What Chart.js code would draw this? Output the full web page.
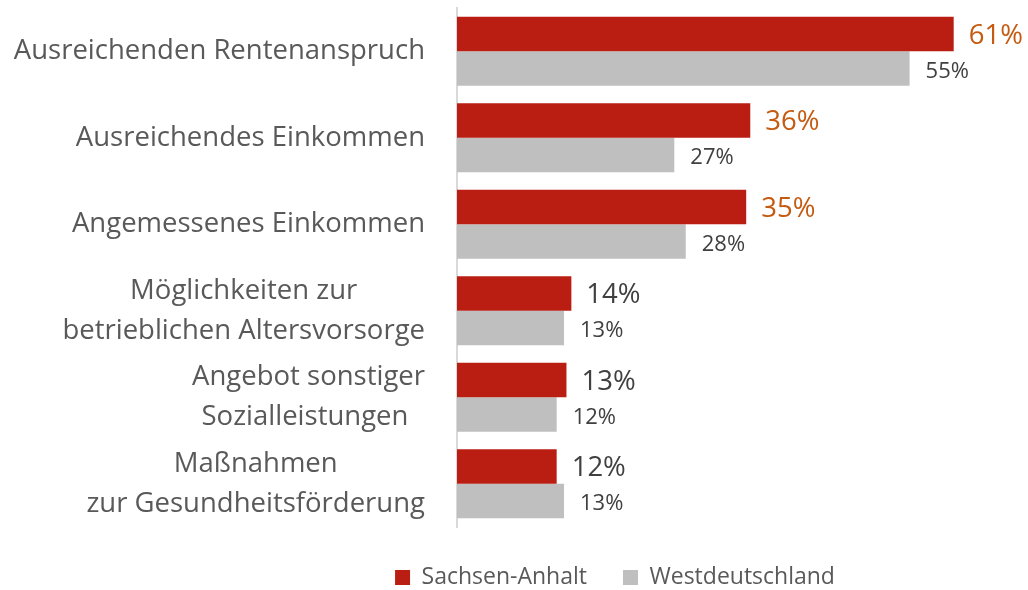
<!DOCTYPE html>
<html>
<head>
<meta charset="utf-8">
<script src="https://cdn.jsdelivr.net/npm/chart.js@4/dist/chart.umd.min.js"></script>
<style>
  html, body { margin: 0; padding: 0; background: #fff; }
  #wrap { width: 1028px; height: 590px; position: relative; }
</style>
</head>
<body>
<div id="wrap"><canvas id="chart"></canvas></div>
<script>
// categories, one array of lines per label
const categories = [
    ['Ausreichenden Rentenanspruch'],
    ['Ausreichendes Einkommen'],
    ['Angemessenes Einkommen'],
    ['Möglichkeiten zur', 'betrieblichen Altersvorsorge'],
    ['Angebot sonstiger', 'Sozialleistungen '],
    ['Maßnahmen', 'zur Gesundheitsförderung']
];
const sachsenAnhalt = [60.8, 35.9, 35.4, 14.0, 13.4, 12.2];
const westdeutschland = [55.4, 26.6, 28.0, 13.1, 12.2, 13.1];
const seriesNames = ['Sachsen-Anhalt', 'Westdeutschland'];

const FONT = "'Open Sans', sans-serif";
const TEXT_GREY = '#595959';
const DARK = '#404040';
const ORANGE = '#C55A11';

// category labels: block right aligned, lines centered inside the block
const categoryLabels = {
    id: 'categoryLabels',
    afterDraw(chart) {
        const ctx = chart.ctx;
        const y = chart.scales.y;
        const right = chart.chartArea.left - 32;
        const lineH = 40;
        ctx.save();
        ctx.font = '27.5px ' + FONT;
        ctx.fillStyle = TEXT_GREY;
        ctx.textAlign = 'center';
        ctx.textBaseline = 'middle';
        categories.forEach((lines, i) => {
            const cy = y.getPixelForValue(i);
            const w = Math.max(...lines.map(l => ctx.measureText(l).width));
            const cx = right - w / 2;
            lines.forEach((l, k) => {
                ctx.fillText(l, cx, cy + (k - (lines.length - 1) / 2) * lineH);
            });
        });
        ctx.restore();
    }
};

// value labels next to each bar
const valueLabels = {
    id: 'valueLabels',
    afterDatasetsDraw(chart) {
        const ctx = chart.ctx;
        ctx.save();
        ctx.textAlign = 'left';
        ctx.textBaseline = 'middle';
        chart.data.datasets.forEach((ds, di) => {
            chart.getDatasetMeta(di).data.forEach((bar, j) => {
                const v = Math.round(ds.data[j]) + '%';
                if (di === 0) {
                    ctx.font = '27.5px ' + FONT;
                    ctx.fillStyle = j < 3 ? ORANGE : DARK;
                    ctx.fillText(v, bar.x + 15, bar.y + 2);
                } else {
                    ctx.font = '22px ' + FONT;
                    ctx.fillStyle = DARK;
                    ctx.fillText(v, bar.x + 16, bar.y + 3);
                }
            });
        });
        ctx.restore();
    }
};

// the legend sits under the plot, a bit right of the page centre
const legendShift = {
    id: 'legendShift',
    afterUpdate(chart) {
        const lg = chart.legend;
        if (!lg) return;
        lg.left += 121;
        lg.right += 121;
    }
};

new Chart(document.getElementById('chart'), {
    type: 'bar',
    data: {
        labels: categories,
        datasets: [
            {
                label: seriesNames[0],
                data: sachsenAnhalt,
                backgroundColor: '#BA1E13',
                categoryPercentage: 0.8,
                barPercentage: 1.0
            },
            {
                label: seriesNames[1],
                data: westdeutschland,
                backgroundColor: '#BFBFBF',
                categoryPercentage: 0.8,
                barPercentage: 1.0
            }
        ]
    },
    options: {
        indexAxis: 'y',
        responsive: true,
        maintainAspectRatio: false,
        animation: false,
        layout: { padding: { top: 8, right: 40, left: 0, bottom: -9 } },
        scales: {
            x: {
                min: 0,
                max: 65,
                ticks: { display: false },
                grid: { display: false },
                border: { display: false },
                afterFit(s) { s.height = 3; }
            },
            y: {
                ticks: { display: false },
                grid: { display: false },
                border: { display: true, color: '#D9D9D9', width: 2 },
                afterFit(s) { s.width = 457; }
            }
        },
        plugins: {
            tooltip: { enabled: false },
            legend: {
                position: 'bottom',
                labels: {
                    boxWidth: 15,
                    boxHeight: 15,
                    padding: 36,
                    color: TEXT_GREY,
                    font: { family: FONT, size: 23, lineHeight: 1 }
                }
            }
        }
    },
    plugins: [categoryLabels, valueLabels, legendShift]
});
</script>
</body>
</html>
